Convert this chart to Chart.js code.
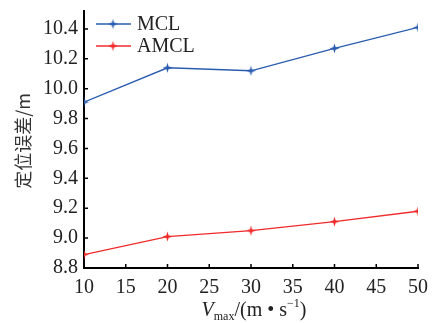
<!DOCTYPE html>
<html>
<head>
<meta charset="utf-8">
<script src="https://cdn.jsdelivr.net/npm/chart.js@4"></script>
<style>
  html, body { margin: 0; padding: 0; background: #fff; }
  #wrap { width: 432px; height: 323px; }
</style>
</head>
<body>
<div id="wrap"><canvas id="c" width="432" height="323"></canvas></div>
<script>
// 数据
const speeds = [10, 20, 30, 40, 50];
const mclErr = [9.91, 10.14, 10.12, 10.27, 10.41];
const amclErr = [8.89, 9.01, 9.05, 9.11, 9.18];
const seriesNames = ['MCL', 'AMCL'];
const xTicks = [10, 15, 20, 25, 30, 35, 40, 45, 50];
const yTicks = [8.8, 9.0, 9.2, 9.4, 9.6, 9.8, 10.0, 10.2, 10.4];

const BLUE = '#2a5cae';
const RED = '#f02a2a';
const SERIF = '"Liberation Serif", "DejaVu Serif", serif';

// 四角星标记
function starMarker(color) {
  const cv = document.createElement('canvas');
  cv.width = 11; cv.height = 11;
  const g = cv.getContext('2d');
  const c = 5.5, R = 5, r = 1.6;
  g.fillStyle = color;
  g.beginPath();
  for (let i = 0; i < 8; i++) {
    const a = -Math.PI / 2 + i * Math.PI / 4;
    const rr = i % 2 === 0 ? R : r;
    g.lineTo(c + rr * Math.cos(a), c + rr * Math.sin(a));
  }
  g.closePath();
  g.fill();
  return cv;
}
const markBlue = starMarker(BLUE), markRed = starMarker(RED);

const decor = {
  id: 'decor',
  afterDraw(chart) {
    const { ctx, chartArea: a, scales: { x, y } } = chart;
    ctx.save();
    // 内向刻度
    ctx.strokeStyle = '#000';
    ctx.lineWidth = 1.5;
    ctx.beginPath();
    xTicks.forEach(v => {
      const px = x.getPixelForValue(v);
      ctx.moveTo(px, a.bottom); ctx.lineTo(px, a.bottom - 4);
    });
    yTicks.forEach(v => {
      const py = y.getPixelForValue(v);
      ctx.moveTo(a.left, py); ctx.lineTo(a.left + 4, py);
    });
    ctx.stroke();

    // 图例
    const items = [[seriesNames[0], BLUE, markBlue, 24], [seriesNames[1], RED, markRed, 46]];
    ctx.font = '20px ' + SERIF;
    ctx.textBaseline = 'middle';
    items.forEach(([name, col, mk, ly]) => {
      ctx.strokeStyle = col; ctx.lineWidth = 1.3;
      ctx.beginPath(); ctx.moveTo(96, ly); ctx.lineTo(131, ly); ctx.stroke();
      ctx.drawImage(mk, 113 - 5.5, ly - 5.5);
      ctx.fillStyle = '#222';
      ctx.fillText(name, 137, ly + 1);
    });

    // y 轴标题
    ctx.save();
    ctx.translate(23, 141);
    ctx.rotate(-Math.PI / 2);
    ctx.textAlign = 'center';
    ctx.textBaseline = 'middle';
    ctx.fillStyle = '#333';
    ctx.font = '18px "Noto Sans CJK SC", ' + SERIF;
    ctx.fillText('定位误差/m', 0, 0);
    ctx.restore();

    // x 轴标题：V_max/(m • s^-1)
    ctx.fillStyle = '#222';
    ctx.textBaseline = 'alphabetic';
    ctx.textAlign = 'left';
    const parts = [
      ['V', 'italic 20px ' + SERIF, 0],
      ['max', '12px ' + SERIF, 4],
      ['/(m • s', '20px ' + SERIF, 0],
      ['−1', '12px ' + SERIF, -9],
      [')', '20px ' + SERIF, 0]
    ];
    let w = 0;
    parts.forEach(p => { ctx.font = p[1]; w += ctx.measureText(p[0]).width; });
    let tx = 254 - w / 2;
    const base = 316;
    parts.forEach(p => {
      ctx.font = p[1];
      ctx.fillText(p[0], tx, base + p[2]);
      tx += ctx.measureText(p[0]).width;
    });
    ctx.restore();
  }
};

new Chart(document.getElementById('c'), {
  type: 'line',
  data: {
    datasets: [
      { label: seriesNames[0], data: speeds.map((s, i) => ({ x: s, y: mclErr[i] })),
        borderColor: BLUE, borderWidth: 1.3, pointStyle: markBlue, pointRadius: 5, fill: false, tension: 0 },
      { label: seriesNames[1], data: speeds.map((s, i) => ({ x: s, y: amclErr[i] })),
        borderColor: RED, borderWidth: 1.3, pointStyle: markRed, pointRadius: 5, fill: false, tension: 0 }
    ]
  },
  options: {
    responsive: false,
    animation: false,
    layout: { padding: { left: 0, right: 14, top: 11, bottom: 0 } },
    plugins: { legend: { display: false }, tooltip: { enabled: false } },
    scales: {
      x: {
        type: 'linear', min: 10, max: 50,
        afterBuildTicks: s => { s.ticks = xTicks.map(v => ({ value: v })); },
        afterFit: s => { s.height = 55; s.paddingLeft = 0; s.paddingRight = 0; },
        grid: { display: false, drawTicks: false },
        border: { display: true, color: '#000', width: 2 },
        ticks: { padding: 8, color: '#222', font: { family: SERIF, size: 20 } }
      },
      y: {
        type: 'linear', min: 8.8, max: 10.52,
        afterBuildTicks: s => { s.ticks = yTicks.map(v => ({ value: v })); },
        afterFit: s => { s.width = 84; s.paddingTop = 0; s.paddingBottom = 0; },
        grid: { display: false, drawTicks: false },
        border: { display: true, color: '#000', width: 2 },
        ticks: { padding: 6, color: '#222', font: { family: SERIF, size: 20 },
          callback: v => v.toFixed(1) }
      }
    }
  },
  plugins: [decor]
});
</script>
</body>
</html>
